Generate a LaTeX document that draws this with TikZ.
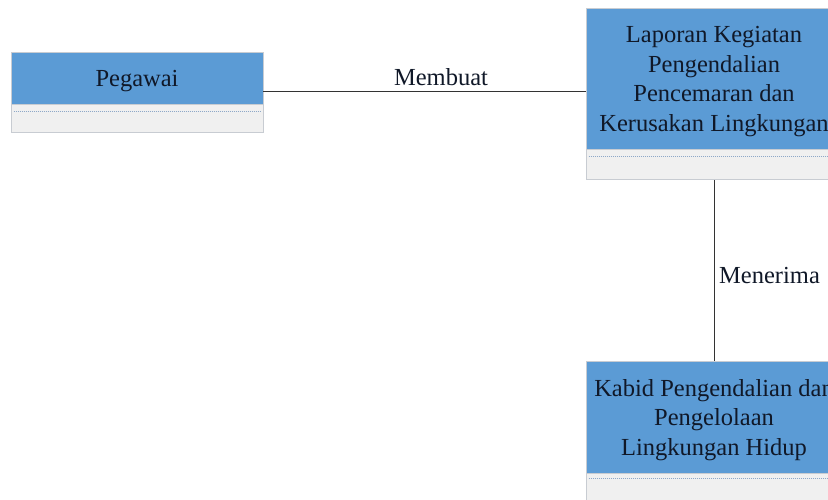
\documentclass[tikz,border=0pt]{standalone}
\usepackage{fontspec}
\setmainfont{Liberation Serif}
\definecolor{hdrblue}{HTML}{5B9BD5}
\definecolor{compgray}{HTML}{F0F0F0}
\definecolor{edgegray}{HTML}{C8CCD2}
\definecolor{dotblue}{HTML}{8FA9C8}
\definecolor{inktext}{HTML}{101828}
\begin{document}
\begin{tikzpicture}[x=1pt,y=-1pt,
  header/.style={draw=edgegray, line width=0.8pt, fill=hdrblue, inner sep=0pt},
  htext/.style={text=inktext, align=center, inner sep=0pt,
    font=\fontsize{24.5}{29.5}\selectfont},
  compart/.style={draw=edgegray, line width=0.8pt, fill=compgray, inner sep=0pt},
  divider/.style={dotblue, line width=0.8pt, dash pattern=on 1pt off 1pt},
  link/.style={draw=black!80, line width=0.8pt},
  lbl/.style={text=inktext, inner sep=0pt, font=\fontsize{24.5}{29}\selectfont}]
\clip (0,0) rectangle (828,500);
\fill[white] (0,0) rectangle (828,500);

% Pegawai class
\node[header, minimum width=252pt, minimum height=52pt] (peg) at (137,78) {};
\node[htext] (pegtxt) at ([yshift=-3pt]peg.center) {Pegawai};
\node[compart, minimum width=252pt, minimum height=28pt, anchor=north] (pegc) at (peg.south) {};
\draw[divider] ([xshift=3pt,yshift=-7pt]pegc.north west) -- ([xshift=-3pt,yshift=-7pt]pegc.north east);

% Laporan class
\node[header, minimum width=256pt, minimum height=141pt] (lap) at (714,78.5) {};
\node[htext] (laptxt) at ([yshift=-3pt]lap.center)
  {Laporan Kegiatan\\Pengendalian\\Pencemaran dan\\Kerusakan Lingkungan};
\node[compart, minimum width=256pt, minimum height=30pt, anchor=north] (lapc) at (lap.south) {};
\draw[divider] ([xshift=3pt,yshift=-7pt]lapc.north west) -- ([xshift=-3pt,yshift=-7pt]lapc.north east);

% Kabid class
\node[header, minimum width=256pt, minimum height=112pt] (kab) at (714,417) {};
\node[htext] (kabtxt) at ([yshift=-3pt]kab.center)
  {Kabid Pengendalian dan\\Pengelolaan\\Lingkungan Hidup};
\node[compart, minimum width=256pt, minimum height=30pt, anchor=north] (kabc) at (kab.south) {};
\draw[divider] ([xshift=3pt,yshift=-5pt]kabc.north west) -- ([xshift=-3pt,yshift=-5pt]kabc.north east);

% associations
\coordinate (rowy) at (0,91);
\draw[link] (peg.east |- rowy) -- (lap.west |- rowy);
\node[lbl] (membuat) at (441,77) {Membuat};
\draw[link] (lapc.south) -- (kab.north);
\node[lbl, anchor=west] (menerima) at (719,276) {Menerima};
\end{tikzpicture}
\end{document}
